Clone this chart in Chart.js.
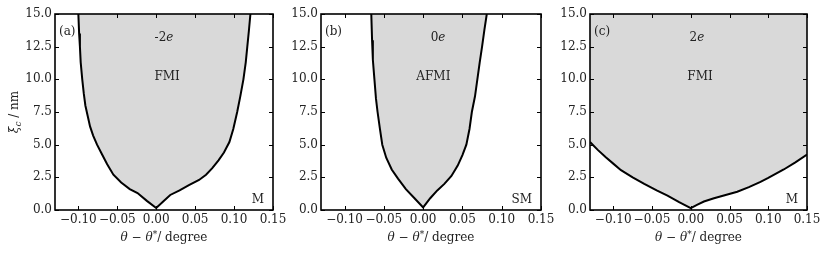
<!DOCTYPE html>
<html>
<head>
<meta charset="utf-8">
<script src="https://cdn.jsdelivr.net/npm/chart.js@4.4.1/dist/chart.umd.min.js"></script>
<style>
  body { margin: 0; background: #fff; width: 830px; height: 257px; position: relative; overflow: hidden; }
  canvas { position: absolute; top: 0; }
</style>
</head>
<body>
<canvas id="pa" width="290" height="257" style="left:0px"></canvas>
<canvas id="pb" width="290" height="257" style="left:280px"></canvas>
<canvas id="pc" width="280" height="257" style="left:550px"></canvas>
<script>
// valores: theta - theta* (grados) y xi_c (nm) sobre la frontera de fase
const thetaA = [-0.100, -0.099, -0.098, -0.097, -0.095, -0.093, -0.091, -0.088, -0.085, -0.081, -0.076, -0.070, -0.063, -0.055, -0.045, -0.034, -0.024, -0.012, 0.000,
                0.010, 0.018, 0.030, 0.042, 0.055, 0.064, 0.072, 0.080, 0.087, 0.094, 0.099, 0.104, 0.108, 0.112, 0.115, 0.117, 0.119, 0.121];
const xiA    = [15.0, 13.5, 12.5, 11.3, 10.0, 8.9, 8.0, 7.2, 6.4, 5.7, 5.0, 4.3, 3.5, 2.7, 2.1, 1.6, 1.3, 0.7, 0.15,
                0.7, 1.15, 1.5, 1.9, 2.3, 2.7, 3.2, 3.8, 4.4, 5.2, 6.2, 7.5, 8.7, 10.0, 11.3, 12.5, 13.7, 15.0];

const thetaB = [-0.066, -0.065, -0.064, -0.062, -0.060, -0.058, -0.055, -0.052, -0.047, -0.040, -0.032, -0.022, -0.011, 0.000,
                0.009, 0.018, 0.027, 0.036, 0.044, 0.050, 0.055, 0.059, 0.062, 0.066, 0.069, 0.072, 0.075, 0.078, 0.081];
const xiB    = [15.0, 13.0, 11.5, 10.0, 8.5, 7.5, 6.2, 5.0, 4.0, 3.1, 2.4, 1.6, 0.9, 0.2,
                0.9, 1.5, 2.0, 2.6, 3.4, 4.2, 5.0, 6.2, 7.5, 8.7, 10.0, 11.3, 12.5, 13.8, 15.0];

const thetaC = [-0.130, -0.120, -0.110, -0.100, -0.090, -0.075, -0.060, -0.044, -0.030, -0.015, 0.000,
                0.008, 0.017, 0.030, 0.045, 0.060, 0.075, 0.090, 0.100, 0.120, 0.135, 0.150];
const xiC    = [5.2, 4.6, 4.05, 3.55, 3.05, 2.5, 2.0, 1.5, 1.1, 0.6, 0.15,
                0.4, 0.65, 0.9, 1.15, 1.4, 1.75, 2.15, 2.45, 3.1, 3.65, 4.25];

const xTicks = [-0.10, -0.05, 0.00, 0.05, 0.10, 0.15];
const yTicks = [0, 2.5, 5, 7.5, 10, 12.5, 15];

const panelTags    = ['(a)', '(b)', '(c)'];
const chargeLabels = ['-2', '0', '2'];
const phaseLabels  = ['FMI', 'AFMI', 'FMI'];
const outerLabels  = ['M', 'SM', 'M'];

const FONT = "'DejaVu Serif'";
const FSIZE = 12;
const INK = '#222';

// texto con partes en cursiva / superindice / subindice
function drawRich(ctx, parts, x, y, size) {
  const fontFor = s => (s.includes('i') ? 'italic ' : '') +
    ((s.includes('u') || s.includes('d')) ? Math.round(size * 0.72) : size) + 'px ' + FONT;
  let w = 0;
  parts.forEach(([t, s]) => { ctx.font = fontFor(s); w += ctx.measureText(t).width; });
  let cx = x - w / 2;
  ctx.textAlign = 'left';
  ctx.textBaseline = 'middle';
  parts.forEach(([t, s]) => {
    ctx.font = fontFor(s);
    const dy = s.includes('u') ? -size * 0.3 : s.includes('d') ? size * 0.3 : 0;
    ctx.fillText(t, cx, y + dy);
    cx += ctx.measureText(t).width;
  });
}

const marcoPlugin = {
  id: 'marco',
  afterDraw(chart, args, opts) {
    const { ctx, chartArea: a, scales } = chart;
    const sx = scales.x, sy = scales.y;
    ctx.save();
    ctx.strokeStyle = '#000';
    // rayitas hacia adentro en los cuatro lados
    ctx.lineWidth = 1;
    ctx.beginPath();
    xTicks.forEach(v => {
      const px = Math.round(sx.getPixelForValue(v)) + 0.5;
      ctx.moveTo(px, a.bottom); ctx.lineTo(px, a.bottom - 4);
      ctx.moveTo(px, a.top); ctx.lineTo(px, a.top + 4);
    });
    yTicks.forEach(v => {
      const py = Math.round(sy.getPixelForValue(v)) + 0.5;
      ctx.moveTo(a.left, py); ctx.lineTo(a.left + 4, py);
      ctx.moveTo(a.right, py); ctx.lineTo(a.right - 4, py);
    });
    ctx.stroke();
    // marco
    ctx.lineWidth = 1.6;
    ctx.strokeRect(a.left, a.top, a.right - a.left, a.bottom - a.top);

    // anotaciones
    ctx.fillStyle = INK;
    const i = opts.index;
    drawRich(ctx, [[chargeLabels[i], ''], ['e', 'i']], sx.getPixelForValue(opts.chargeX), sy.getPixelForValue(13.2), FSIZE);
    drawRich(ctx, [[phaseLabels[i], '']], sx.getPixelForValue(opts.phaseX), sy.getPixelForValue(10.2), FSIZE);
    ctx.font = FSIZE + 'px ' + FONT;
    ctx.textBaseline = 'middle';
    ctx.textAlign = 'right';
    ctx.fillText(outerLabels[i], a.right - 9, sy.getPixelForValue(0.8));
    ctx.textAlign = 'left';
    ctx.fillText(panelTags[i], a.left + 4, a.top + 18);

    // titulos de ejes
    drawRich(ctx, [['θ', 'i'], [' − ', ''], ['θ', 'i'], ['*', 'u'], ['/ degree', '']], (a.left + a.right) / 2, 238, FSIZE);
    if (opts.yTitle) {
      ctx.translate(15, (a.top + a.bottom) / 2);
      ctx.rotate(-Math.PI / 2);
      drawRich(ctx, [['ξ', 'i'], ['c', 'id'], [' / nm', '']], 0, 0, FSIZE);
    }
    ctx.restore();
  }
};

const paneles = [
  { canvas: 'pa', theta: thetaA, xi: xiA, yWidth: 55, right: 17, chargeX: 0.010, phaseX: 0.014, yTitle: true },
  { canvas: 'pb', theta: thetaB, xi: xiB, yWidth: 41, right: 29, chargeX: 0.019, phaseX: 0.013, yTitle: false },
  { canvas: 'pc', theta: thetaC, xi: xiC, yWidth: 40, right: 23, chargeX: 0.008, phaseX: 0.012, yTitle: false }
];

paneles.forEach((p, i) => {
  new Chart(document.getElementById(p.canvas), {
    type: 'line',
    data: {
      datasets: [{
        data: p.theta.map((t, k) => ({ x: t, y: p.xi[k] })),
        borderColor: '#000',
        borderWidth: 2,
        backgroundColor: '#d9d9d9',
        fill: 'end',
        pointRadius: 0,
        tension: 0
      }]
    },
    options: {
      responsive: false,
      animation: false,
      layout: { padding: { top: 14, right: p.right, left: 0, bottom: 0 } },
      plugins: {
        legend: { display: false },
        tooltip: { enabled: false },
        marco: { index: i, chargeX: p.chargeX, phaseX: p.phaseX, yTitle: p.yTitle }
      },
      scales: {
        x: {
          type: 'linear', min: -0.13, max: 0.15,
          afterBuildTicks: s => { s.ticks = xTicks.map(v => ({ value: v })); },
          afterFit: s => { s.height = 47; },
          grid: { display: false, drawTicks: false },
          border: { display: false },
          ticks: {
            padding: 3, maxRotation: 0, autoSkip: false, color: INK,
            font: { family: FONT, size: FSIZE },
            callback: v => v.toFixed(2).replace('-', '−')
          }
        },
        y: {
          type: 'linear', min: 0, max: 15,
          afterBuildTicks: s => { s.ticks = yTicks.map(v => ({ value: v })); },
          afterFit: s => { s.width = p.yWidth; },
          grid: { display: false, drawTicks: false },
          border: { display: false },
          ticks: {
            padding: 3, color: INK,
            font: { family: FONT, size: FSIZE },
            callback: v => v.toFixed(1)
          }
        }
      }
    },
    plugins: [marcoPlugin]
  });
});
</script>
</body>
</html>
